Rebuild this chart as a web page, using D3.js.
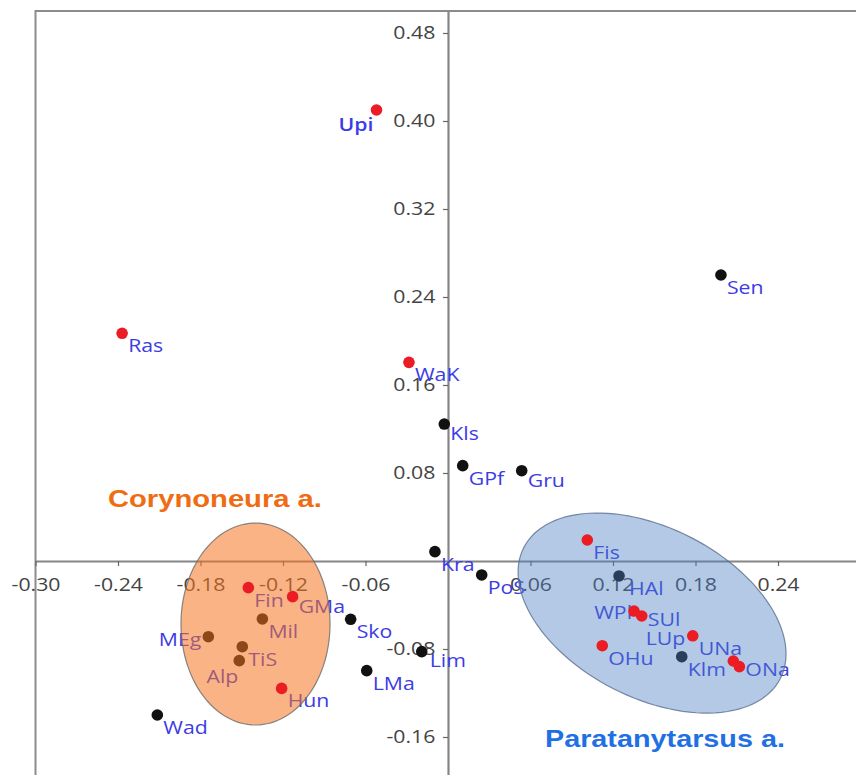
<!DOCTYPE html>
<html>
<head>
<meta charset="utf-8">
<script src="https://cdn.jsdelivr.net/npm/d3@7"></script>
<style>
  body { margin: 0; background: #fff; }
  svg { display: block; }
</style>
</head>
<body>
<div id="chart"></div>
<script>
// sites (PCA scores, axis 1 / axis 2)
var sites = ["Upi","Ras","Sen","WaK","Kls","GPf","Gru","Kra","PoS","Fis","HAl","WPl","SUl","UNa","LUp","ONa","OHu","Klm",
             "Lim","LMa","Sko","Wad","Fin","GMa","Mil","MEg","TiS","Alp","Hun"];
var axis1 = [-0.052,-0.237,0.1985,-0.0284,-0.0027,0.0107,0.0536,-0.0095,0.0245,0.1013,0.1244,0.1353,0.1409,0.178,0.2075,0.2119,0.1122,0.170,
             -0.0191,-0.0591,-0.0708,-0.2114,-0.1452,-0.113,-0.135,-0.1743,-0.1496,-0.1518,-0.121];
var axis2 = [0.410,0.207,0.260,0.1806,0.1245,0.0867,0.0821,0.0085,-0.0127,0.0191,-0.0136,-0.0455,-0.050,-0.068,-0.0909,-0.096,-0.077,-0.087,
             -0.0824,-0.0997,-0.053,-0.140,-0.0242,-0.0324,-0.0527,-0.0688,-0.0779,-0.0906,-0.1158];
var marked = [1,1,0,1,0,0,0,0,0,1,0,1,1,1,1,1,1,0,
              0,0,0,0,1,1,0,0,0,0,1];

// group ellipses: centre + two semi-axis vectors, in axis units
var groups = ["Corynoneura a.","Paratanytarsus a."];
var groupCx = [-0.140, 0.1484];
var groupCy = [-0.0573, -0.0473];
var groupAxisU = [[0.0542, 0], [0.0933, -0.0595]];
var groupAxisV = [[0, 0.0918], [-0.0281, -0.0688]];
var groupLabelX = [-0.2473, 0.0705];
var groupLabelY = [0.049, -0.169];

var xTicks = [-0.30,-0.24,-0.18,-0.12,-0.06,0.06,0.12,0.18,0.24];
var yTicks = [-0.16,-0.08,0.08,0.16,0.24,0.32,0.40,0.48];

var W = 856, H = 775;
var stretch = 1.15;

var svg = d3.select("#chart").append("svg").attr("width", W).attr("height", H);

var x = d3.scaleLinear().domain([-0.30, 0.30]).range([35.5, 860.5]);
var y = d3.scaleLinear().domain([-0.20, 0.50]).range([781, 11]);

// frame
svg.append("rect")
  .attr("x", x(-0.30)).attr("y", y(0.50))
  .attr("width", 900).attr("height", 900)
  .attr("fill", "none").attr("stroke", "#8c8c8c").attr("stroke-width", 2);

var xAxis = d3.axisBottom(x).tickValues(xTicks).tickFormat(function(d){ return d.toFixed(2); })
  .tickSizeInner(5).tickSizeOuter(0).tickPadding(12);
var yAxis = d3.axisLeft(y).tickValues(yTicks).tickFormat(function(d){ return d.toFixed(2); })
  .tickSizeInner(5).tickSizeOuter(0).tickPadding(6);

var gx = svg.append("g").attr("transform", "translate(0," + y(0) + ")").call(xAxis);
var gy = svg.append("g").attr("transform", "translate(" + x(0) + ",0)").call(yAxis);

[gx, gy].forEach(function(g){
  g.select(".domain").attr("stroke", "#858585").attr("stroke-width", 2.2);
  g.selectAll(".tick line").attr("stroke", "#666").attr("stroke-width", 1.2);
  g.selectAll(".tick text")
    .attr("fill", "#444")
    .attr("font-family", "'Open Sans', sans-serif")
    .attr("font-size", 18.5)
    .attr("transform", "scale(" + stretch + ",1)");
});

var pts = sites.map(function(s, i){
  return {name: s, a1: axis1[i], a2: axis2[i], red: marked[i] === 1};
});

// label placement around the dot: [dx, dy, anchor]
var labelPos = {
  Upi: [-3, 21, "end"], MEg: [-7, 9, "end"], Alp: [-1, 22, "end"], WPl: [-2, 8, "end"],
  SUl: [6, 10], LUp: [-48, -16, "end"], ONa: [6, 9], Lim: [8, 15],
  GMa: [6, 16], Gru: [6, 16], Kls: [6, 16], HAl: [10, 19]
};

// black dots under the ellipses
svg.append("g").selectAll("circle")
  .data(pts.filter(function(d){ return !d.red; }))
  .join("circle")
  .attr("cx", function(d){ return x(d.a1); })
  .attr("cy", function(d){ return y(d.a2); })
  .attr("r", 5.8)
  .attr("fill", "#111");

svg.append("g").selectAll("text")
  .data(pts)
  .join("text")
  .attr("transform", function(d){
    var p = labelPos[d.name] || [6, 19];
    return "translate(" + (x(d.a1) + p[0]) + "," + (y(d.a2) + p[1]) + ") scale(" + stretch + ",1)";
  })
  .attr("text-anchor", function(d){ var p = labelPos[d.name]; return p && p[2] ? p[2] : "start"; })
  .attr("font-family", "'Open Sans', sans-serif")
  .attr("font-size", 18.5)
  .attr("font-weight", function(d){ return d.name === "Upi" ? 600 : 400; })
  .attr("fill", "#3c3ce6")
  .text(function(d){ return d.name; });

// ellipses
var ellipseFill = ["#f47420", "#4a7ec0"];
var ellipseOpacity = [0.55, 0.42];
var ellipseStroke = ["#6b6b6b", "#5a6f90"];
var line = d3.line().curve(d3.curveLinearClosed);

groups.forEach(function(g, i){
  var ring = d3.range(0, 120).map(function(k){
    var t = k / 120 * 2 * Math.PI;
    var ex = groupCx[i] + groupAxisU[i][0] * Math.cos(t) + groupAxisV[i][0] * Math.sin(t);
    var ey = groupCy[i] + groupAxisU[i][1] * Math.cos(t) + groupAxisV[i][1] * Math.sin(t);
    return [x(ex), y(ey)];
  });
  svg.append("path")
    .attr("d", line(ring))
    .attr("fill", ellipseFill[i])
    .attr("fill-opacity", ellipseOpacity[i])
    .attr("stroke", ellipseStroke[i])
    .attr("stroke-opacity", 0.8)
    .attr("stroke-width", 1.2);
});

// red dots on top
svg.append("g").selectAll("circle")
  .data(pts.filter(function(d){ return d.red; }))
  .join("circle")
  .attr("cx", function(d){ return x(d.a1); })
  .attr("cy", function(d){ return y(d.a2); })
  .attr("r", 5.8)
  .attr("fill", "#ec1c24");

var groupColor = ["#ef6c12", "#1f6fe5"];
var groupWidth = [214, 240];
groups.forEach(function(g, i){
  svg.append("text")
    .attr("x", x(groupLabelX[i]))
    .attr("y", y(groupLabelY[i]))
    .attr("font-family", "'Liberation Sans', Arial, sans-serif")
    .attr("font-weight", "bold")
    .attr("font-size", 24)
    .attr("textLength", groupWidth[i])
    .attr("lengthAdjust", "spacingAndGlyphs")
    .attr("fill", groupColor[i])
    .text(g);
});
</script>
</body>
</html>
